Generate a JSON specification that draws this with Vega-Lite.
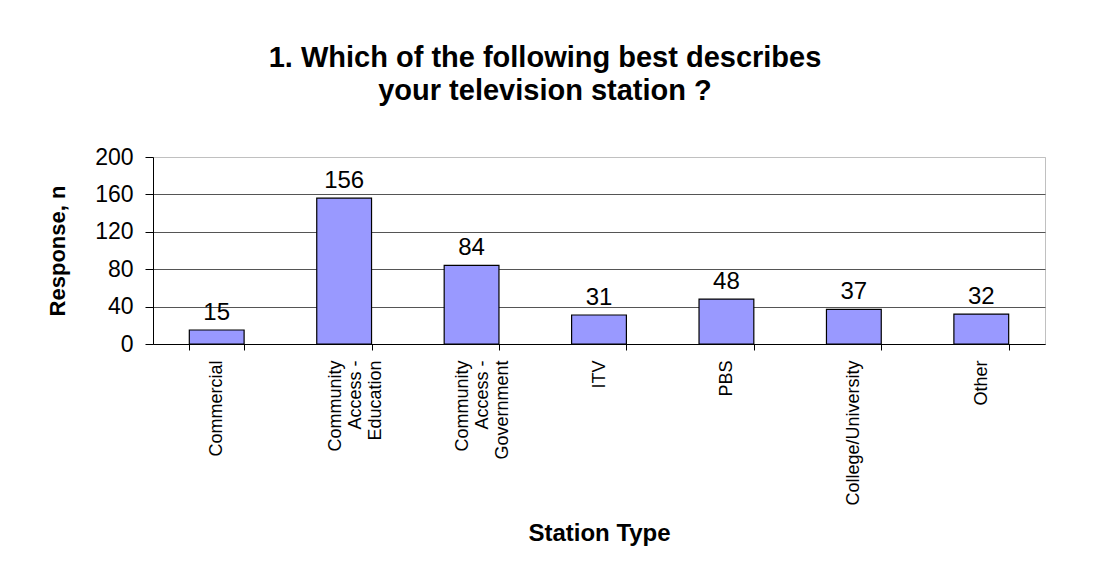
{
  "$schema": "https://vega.github.io/schema/vega-lite/v6.json",
  "width": 892,
  "height": 187,
  "autosize": "none",
  "padding": {"left": 153, "top": 157, "right": 50, "bottom": 225},
  "background": "white",
  "title": {
    "text": ["1. Which of the following best describes", "your television station ?"],
    "font": "Liberation Sans",
    "fontSize": 29,
    "fontWeight": "bold",
    "color": "black",
    "lineHeight": 33,
    "anchor": "middle",
    "dx": -54,
    "offset": 40
  },
  "data": {
    "values": [
      {"type": "Commercial", "n": 15},
      {"type": "Community|Access -|Education", "n": 156},
      {"type": "Community|Access -|Government", "n": 84},
      {"type": "ITV", "n": 31},
      {"type": "PBS", "n": 48},
      {"type": "College/University", "n": 37},
      {"type": "Other", "n": 32}
    ]
  },
  "encoding": {
    "x": {
      "field": "type",
      "type": "nominal",
      "sort": null,
      "scale": {"paddingInner": 0.57, "paddingOuter": 0.285},
      "axis": {
        "title": "Station Type",
        "titleFont": "Liberation Sans",
        "titleFontSize": 24,
        "titleFontWeight": "bold",
        "titleColor": "black",
        "titleY": 189,
        "titleBaseline": "middle",
        "labelExpr": "split(datum.label, '|')",
        "labelAngle": 270,
        "labelAlign": "right",
        "labelBaseline": {"condition": {"test": "datum.value == 'Community|Access -|Education' || datum.value == 'Community|Access -|Government'", "value": "bottom"}, "value": "middle"},
        "labelFont": "Liberation Sans",
        "labelFontSize": 18,
        "labelColor": "black",
        "labelLineHeight": 20,
        "labelPadding": 10,
        "labelLimit": 300,
        "tickBand": "extent",
        "tickColor": "black",
        "tickSize": 6,
        "domainColor": "black",
        "grid": false
      }
    },
    "y": {
      "field": "n",
      "type": "quantitative",
      "scale": {"domain": [0, 200], "nice": false},
      "axis": {
        "title": "Response, n",
        "titleFont": "Liberation Sans",
        "titleFontSize": 22,
        "titleFontWeight": "bold",
        "titleColor": "black",
        "titleX": -96,
        "titleBaseline": "middle",
        "values": [0, 40, 80, 120, 160, 200],
        "labelFont": "Liberation Sans",
        "labelFontSize": 23,
        "labelColor": "black",
        "labelPadding": 12,
        "tickColor": "black",
        "tickSize": 8,
        "domainColor": "black",
        "grid": true,
        "gridColor": {"condition": {"test": "datum.value == 200", "value": "#c0c0c0"}, "value": "#555555"},
        "gridOpacity": 1
      }
    }
  },
  "layer": [
    {
      "mark": {"type": "bar", "fill": "#9999FF", "stroke": "black", "strokeWidth": 1.2}
    },
    {
      "mark": {"type": "text", "font": "Liberation Sans", "fontSize": 24, "color": "black", "baseline": "bottom", "dy": -5},
      "encoding": {"text": {"field": "n", "type": "quantitative"}}
    }
  ],
  "config": {
    "view": {"stroke": "#c0c0c0", "strokeWidth": 1}
  }
}
